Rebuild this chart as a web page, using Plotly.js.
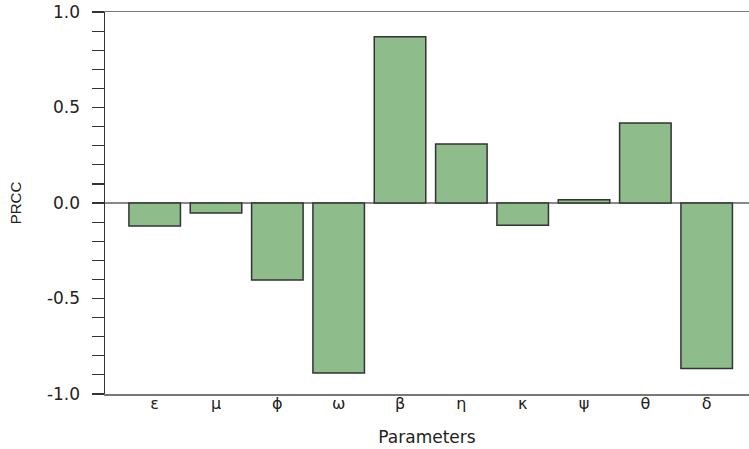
<!DOCTYPE html>
<html>
<head>
<meta charset="utf-8">
<script src="https://cdn.plot.ly/plotly-3.0.1.min.js"></script>
<style>html,body{margin:0;padding:0;background:#fff;}#chart{width:749px;height:449px;}</style>
</head>
<body>
<div id="chart"></div>
<script>
const parameters = ["ε", "μ", "ϕ", "ω", "β", "η", "κ", "ψ", "θ", "δ"];
const prcc = [-0.12, -0.052, -0.403, -0.89, 0.871, 0.309, -0.117, 0.017, 0.419, -0.867];
const yTickValues = [-1, -0.5, 0, 0.5, 1];
const yTickLabels = ["-1.0", "-0.5", "0.0", "0.5", "1.0"];

const trace = {
  type: "bar",
  x: parameters,
  y: prcc,
  width: 0.84,
  marker: {color: "#8FBC8B", line: {color: "#333333", width: 1.5}},
  hoverinfo: "x+y"
};

const layout = {
  width: 749,
  height: 449,
  margin: {l: 105, r: 0, t: 12, b: 55},
  paper_bgcolor: "#ffffff",
  plot_bgcolor: "#ffffff",
  showlegend: false,
  font: {family: "DejaVu Sans, Arial, sans-serif", color: "#222222"},
  xaxis: {
    type: "category",
    range: [-0.81, 9.69],
    showgrid: false,
    zeroline: false,
    showline: true,
    mirror: true,
    linecolor: "#777777",
    linewidth: 1.5,
    ticks: "",
    ticklabelstandoff: -6,
    tickfont: {size: 16, family: "DejaVu Sans, Arial, sans-serif", color: "#222222"},
    title: {text: "Parameters", font: {size: 17, family: "DejaVu Sans, Arial, sans-serif", color: "#222222"}, standoff: 19}
  },
  yaxis: {
    range: [-1, 1],
    tickvals: yTickValues,
    ticktext: yTickLabels,
    showgrid: false,
    zeroline: true,
    zerolinecolor: "#888888",
    zerolinewidth: 1.5,
    showline: true,
    mirror: false,
    linecolor: "#333333",
    linewidth: 1.5,
    ticks: "outside",
    ticklen: 12,
    tickwidth: 1.2,
    tickcolor: "#333333",
    ticklabelstandoff: 8,
    minor: {dtick: 0.1, ticks: "outside", ticklen: 12, tickwidth: 1.2, tickcolor: "#333333", showgrid: false},
    tickfont: {size: 17, family: "DejaVu Sans, Arial, sans-serif", color: "#222222"},
    title: {text: "PRCC", font: {size: 15, family: "Arial, Liberation Sans, sans-serif", color: "#222222"}, standoff: 21}
  }
};

Plotly.newPlot("chart", [trace], layout, {displayModeBar: false, staticPlot: true});
</script>
</body>
</html>
